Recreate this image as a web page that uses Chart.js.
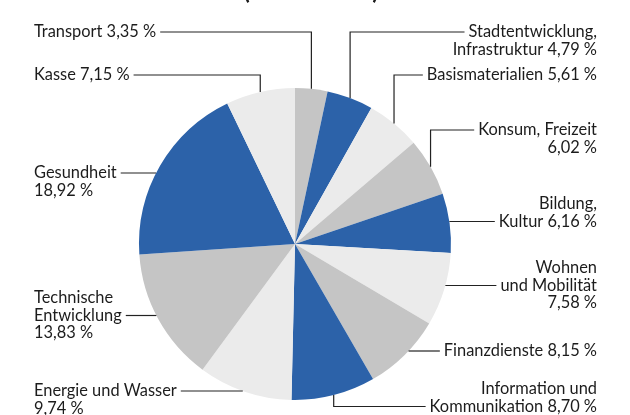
<!DOCTYPE html>
<html lang="de">
<head>
<meta charset="utf-8">
<script src="https://cdn.jsdelivr.net/npm/chart.js@4.4.0/dist/chart.umd.min.js"></script>
<style>
  html, body { margin: 0; padding: 0; background: #fff; }
  #wrap { position: relative; width: 630px; height: 415px; }
</style>
</head>
<body>
<div id="wrap"><canvas id="pieChart"></canvas></div>
<script>
// Sektoren im Uhrzeigersinn, beginnend bei 12 Uhr
const sektoren = ['Transport', 'Stadtentwicklung,\nInfrastruktur', 'Basismaterialien', 'Konsum, Freizeit',
    'Bildung,\nKultur', 'Wohnen\nund Mobilität', 'Finanzdienste', 'Information und\nKommunikation',
    'Energie und Wasser', 'Technische\nEntwicklung', 'Gesundheit', 'Kasse'];
const anteile = [3.35, 4.79, 5.61, 6.02, 6.16, 7.58, 8.15, 8.70, 9.74, 13.83, 18.92, 7.15];

const GRAU = '#c5c5c5', BLAU = '#2c62a9', HELL = '#ebebeb';
const farben = [GRAU, BLAU, HELL, GRAU, BLAU, HELL, GRAU, BLAU, HELL, GRAU, BLAU, HELL];

// Position der Beschriftungen (Textblock), Zeile mit Linie, Art der Linie
const beschriftung = [
    { seite: 'links',  y: 32,  zeile: 0, art: 'knick' },
    { seite: 'rechts', y: 32,  zeile: 0, art: 'knick' },
    { seite: 'rechts', y: 75,  zeile: 0, art: 'knick' },
    { seite: 'rechts', y: 130, zeile: 0, art: 'knick', neueZeile: true },
    { seite: 'rechts', y: 204, zeile: 1, art: 'gerade' },
    { seite: 'rechts', y: 268, zeile: 1, art: 'gerade', neueZeile: true },
    { seite: 'rechts', y: 351, zeile: 0, art: 'gerade' },
    { seite: 'rechts', y: 389, zeile: 1, art: 'knick' },
    { seite: 'links',  y: 391, zeile: 0, art: 'gerade', neueZeile: true },
    { seite: 'links',  y: 298, zeile: 1, art: 'gerade', neueZeile: true },
    { seite: 'links',  y: 173, zeile: 0, art: 'gerade', neueZeile: true },
    { seite: 'links',  y: 75,  zeile: 0, art: 'knick' }
];

const SCHRIFT = '16.4px Lato';
const ZEILE = 17.5;
const X_LINKS = 34, X_RECHTS = 597;

function formatProzent(v) {
    return v.toFixed(2).replace('.', ',') + ' %';
}

// Beschriftungen mit Hinweislinien
const beschriftungPlugin = {
    id: 'beschriftung',
    afterDraw(chart) {
        const ctx = chart.ctx;
        const meta = chart.getDatasetMeta(0);
        ctx.save();

        // Titel (oben abgeschnitten)
        ctx.font = 'bold 24px Lato';
        ctx.fillStyle = '#1c1c1c';
        ctx.textAlign = 'center';
        ctx.textBaseline = 'alphabetic';
        ctx.fillText('(Stand 2023)', 311, -1);

        ctx.font = SCHRIFT;
        ctx.textBaseline = 'middle';
        ctx.strokeStyle = '#222';
        ctx.lineWidth = 1.2;

        meta.data.forEach((arc, i) => {
            const b = beschriftung[i];
            const zeilen = sektoren[i].split('\n');
            const wert = formatProzent(anteile[i]);
            if (b.neueZeile) zeilen.push(wert);
            else zeilen[zeilen.length - 1] += ' ' + wert;

            const links = b.seite === 'links';
            ctx.textAlign = links ? 'left' : 'right';
            ctx.fillStyle = '#1c1c1c';
            zeilen.forEach((t, k) => {
                ctx.fillText(t, links ? X_LINKS : X_RECHTS, b.y + k * ZEILE);
            });

            const ry = b.y + b.zeile * ZEILE;
            const breite = ctx.measureText(zeilen[b.zeile]).width;
            const startX = links ? X_LINKS + breite + 4 : X_RECHTS - breite - 4;
            const p = arc.getProps(['x', 'y', 'outerRadius', 'startAngle', 'endAngle'], true);

            ctx.beginPath();
            ctx.moveTo(startX, ry);
            if (b.art === 'knick') {
                const mitte = (p.startAngle + p.endAngle) / 2;
                const ax = p.x + p.outerRadius * Math.cos(mitte);
                const ay = p.y + p.outerRadius * Math.sin(mitte);
                ctx.lineTo(ax, ry);
                ctx.lineTo(ax, ay);
            } else {
                const dy = ry - p.y;
                const dx = Math.sqrt(Math.max(p.outerRadius * p.outerRadius - dy * dy, 0));
                ctx.lineTo(links ? p.x - dx : p.x + dx, ry);
            }
            ctx.stroke();
        });
        ctx.restore();
    }
};

const pieChart = new Chart(document.getElementById('pieChart'), {
    type: 'pie',
    data: {
        labels: sektoren,
        datasets: [{
            data: anteile,
            backgroundColor: farben,
            borderWidth: 0
        }]
    },
    options: {
        responsive: true,
        maintainAspectRatio: false,
        animation: false,
        layout: { padding: { top: 88, bottom: 15, left: 139, right: 179 } },
        plugins: {
            legend: { display: false },
            tooltip: { enabled: false }
        }
    },
    plugins: [beschriftungPlugin]
});
</script>
</body>
</html>
